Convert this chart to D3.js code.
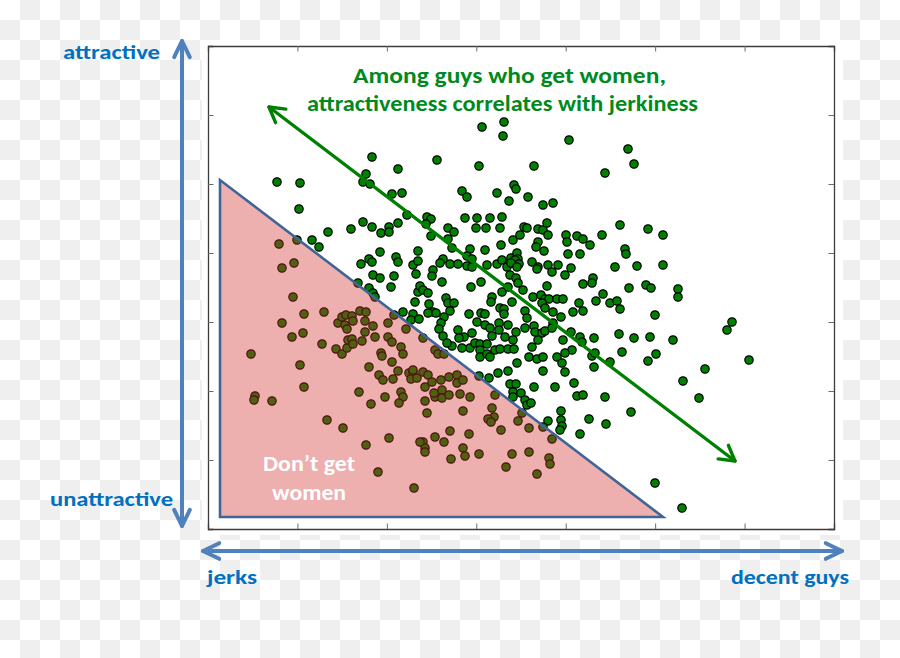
<!DOCTYPE html>
<html><head><meta charset="utf-8">
<script src="https://cdn.jsdelivr.net/npm/d3@7"></script>
<style>html,body{margin:0;padding:0;background:#fff;} svg{display:block;}</style>
</head><body>
<svg id="chart" width="900" height="658"></svg>
<script>
// ---- data (arbitrary units: jerkiness -> decency on x, attractiveness on y) ----
const xDomain = [0, 626];
const yDomain = [0, 483];
const tickCount = 7;
const guys = [
[164,372],[190,360],[158,355],[69,347],[92,346],[155,347],[162,345],[184,335],[194,336],[91,320],
[199,314],[155,307],[164,302],[143,300],[181,302],[190,306],[173,296],[181,297],[120,297],[104,289],
[111,282],[71,285],[89,289],[172,277],[210,278],[188,272],[190,267],[161,270],[164,267],[153,265],
[205,264],[210,268],[86,266],[74,261],
[274,402],[296,407],[295,393],[361,389],[420,380],[229,369],[271,363],[326,363],[397,356],[254,338],
[259,332],[289,336],[306,344],[308,340],[301,328],[320,332],[335,324],[345,326],[219,312],[223,310],
[218,305],[257,311],[269,311],[282,311],[294,312],[412,304],[240,301],[246,297],[223,293],[268,301],
[278,301],[292,301],[316,302],[319,301],[330,300],[335,299],[339,306],[340,294],[312,294],[305,289],
[330,287],[328,282],[336,278],[358,294],[359,287],[369,293],[375,290],[382,284],[394,294],[417,280],
[418,275],[240,290],[262,280],[244,281],[277,279],[293,284],[259,273],[264,270],[235,270],[242,265],
[250,265],[259,263],[264,262],[225,259],[289,265],[294,269],[303,271],[309,276],[310,270],[307,269],
[301,265],[311,265],[324,267],[340,264],[350,264],[360,275],[372,275],[363,261],[407,262],[330,262],
[426,365],[440,300],[455,294],[429,263],[455,264],
[165,254],[172,251],[186,253],[183,242],[161,241],[165,236],[167,232],[208,255],[210,237],[207,227],
[195,217],[205,215],[203,209],[211,210],[150,246],
[85,232],[96,215],[116,217],[74,206],[95,196],[84,192],[114,185],[43,175],[92,164],[96,142],
[47,133],[46,129],[64,128],[128,180],[134,175],[139,181],[140,189],[144,190],[145,185],[154,188],
[130,206],[134,212],[138,214],[144,213],[145,208],[137,204],[139,200],[152,218],[158,217],[157,208],
[165,203],[157,197],[167,192],[180,206],[186,214],[180,192],[184,187],[193,182],[195,175],[198,200],
[173,176],[174,173],[184,167],[161,162],[190,158],[201,156],[205,157],[171,154],[175,149],[185,150],
[203,150],[209,151],[151,137],[177,132],[193,137],[195,132],
[232,266],[279,264],[299,262],[303,266],[309,262],[329,260],[344,257],[357,254],[224,253],[234,247],
[212,243],[215,239],[220,236],[221,225],[225,217],[220,216],[228,216],[238,231],[240,226],[246,226],
[242,218],[236,212],[233,206],[231,200],[235,193],[250,199],[256,192],[264,196],[261,215],[269,207],
[273,247],[263,242],[284,232],[283,227],[294,237],[300,242],[302,254],[308,251],[310,246],[315,239],
[273,216],[277,215],[277,204],[282,201],[284,193],[291,206],[292,221],[296,220],[296,215],[300,204],
[304,227],[308,197],[305,189],[297,192],[291,199],[317,218],[319,211],[317,201],[326,203],[327,197],
[325,232],[333,234],[339,243],[337,230],[341,230],[334,226],[337,221],[345,217],[349,230],[355,230],
[353,212],[365,217],[371,226],[375,218],[375,245],[385,251],[384,246],[388,228],[395,235],[402,226],
[409,228],[334,196],[337,198],[330,189],[345,206],[344,201],[355,189],[363,197],[372,192],[374,187],
[386,191],[411,195],[414,177],[364,179],[349,172],[357,176],[324,182],[321,172],[329,170],[335,172],
[354,166],[357,157],[335,158],[384,173],[387,176],[386,162],[402,167],[309,166],[300,158],[290,156],
[281,151],[271,153],[251,191],[254,181],[262,181],[267,186],[272,185],[279,185],[272,179],[272,172],
[244,183],[239,186],[279,175],[287,179],[292,180],[300,180],[306,180],[282,172],[302,145],[305,137],
[308,145],[326,142],[347,142],[366,146],[369,133],[375,134],[397,132],
[215,191],[227,179],[230,175],[236,175],[205,159],[215,157],[220,154],[217,142],[224,147],[233,149],
[234,139],[241,152],[249,154],[249,146],[255,149],[262,132],[227,132],
[421,241],[438,244],[443,241],[470,240],[470,232],[412,220],[447,214],[524,207],[519,199],[426,191],
[442,192],[465,189],[448,175],[440,168],[541,169],[497,160],[475,148],[491,131],
[423,117],[447,46],[474,21],
[305,132],[313,136],[317,129],[319,124],[323,126],[353,118],[340,108],[353,109],[354,103],[352,99],
[381,110],[398,105],[372,95],
[226,136],[234,131],[241,134],[252,135],[287,134],[217,128],[219,116],[255,118],[284,121],[286,112],
[280,110],[283,107],[314,116],[310,108],[293,99],[321,101],[335,102],[242,98],[261,95],[227,92],
[215,87],[236,87],[217,81],[217,77],[255,81],[257,73],[243,70],[271,75],[304,75],[321,77],
[344,90],[341,71],[342,65],[298,62],[329,55],[206,41],
[119,109],[135,101],[163,125],[191,126],[181,91],[158,84],[170,57],[212,87]
];
const dontGetWomen = [[12,349],[12,12],[455,12]];
const trendArrow = [[61,422],[527,68]];
const vAxisArrow = [[-26,3],[-26,488]];
const hAxisArrow = [[-5,-22],[634,-22]];
const titleLines = ["Among guys who get women,", "attractiveness correlates with jerkiness"];
const regionLines = ["Don\u2019t get", "women"];
const axisLabels = {top: "attractive", bottom: "unattractive", left: "jerks", right: "decent guys"};

// ---- drawing ----
const svg = d3.select("#chart");
const W = 900, H = 658;
const plot = {left: 208, right: 834, top: 46, bottom: 529};
const x = d3.scaleLinear().domain(xDomain).range([plot.left, plot.right]);
const y = d3.scaleLinear().domain(yDomain).range([plot.bottom, plot.top]);

// transparent-style checkerboard background
const defs = svg.append("defs");
const pat = defs.append("pattern").attr("id","checker").attr("width",40).attr("height",40)
  .attr("patternUnits","userSpaceOnUse");
pat.append("rect").attr("width",40).attr("height",40).attr("fill","#ffffff");
pat.append("rect").attr("x",20).attr("y",0).attr("width",20).attr("height",20).attr("fill","#efefef");
pat.append("rect").attr("x",0).attr("y",20).attr("width",20).attr("height",20).attr("fill","#efefef");
svg.append("rect").attr("width",W).attr("height",H).attr("fill","url(#checker)");
svg.append("rect").attr("x",202).attr("y",40).attr("width",641).attr("height",495).attr("fill","#fff");

// axes (box with inward ticks)
const tickVals = xv => d3.range(1, tickCount).map(i => xv[0] + i*(xv[1]-xv[0])/tickCount);
const axG = svg.append("g");
const tl = 5.5;
axG.append("g").attr("transform",`translate(0,${plot.bottom})`)
  .call(d3.axisBottom(x).tickValues(tickVals(xDomain)).tickSize(-tl).tickFormat(""));
axG.append("g").attr("transform",`translate(0,${plot.top})`)
  .call(d3.axisTop(x).tickValues(tickVals(xDomain)).tickSize(-tl).tickFormat(""));
axG.append("g").attr("transform",`translate(${plot.left},0)`)
  .call(d3.axisLeft(y).tickValues(tickVals(yDomain)).tickSize(-tl).tickFormat(""));
axG.append("g").attr("transform",`translate(${plot.right},0)`)
  .call(d3.axisRight(y).tickValues(tickVals(yDomain)).tickSize(-tl).tickFormat(""));
axG.selectAll(".domain").attr("stroke","#3c3c3c").attr("stroke-width",1.3);
axG.selectAll(".tick line").attr("stroke","#6a6a6a").attr("stroke-width",1);

// points
svg.append("g").selectAll("circle").data(guys).join("circle")
  .attr("cx", d => x(d[0])).attr("cy", d => y(d[1])).attr("r", 4.2)
  .attr("fill", "#008000").attr("stroke", "#000").attr("stroke-width", 1.2);

// "don't get women" triangle overlay
const line = d3.line().x(d => x(d[0])).y(d => y(d[1]));
svg.append("path").attr("d", line(dontGetWomen) + "Z")
  .attr("fill", "rgb(210,45,45)").attr("fill-opacity", 0.38)
  .attr("stroke", "#3f6596").attr("stroke-width", 2.6).attr("stroke-linejoin","miter");

// double-headed arrow helper
function dblArrow(pts, color, width, headLen, headAng) {
  const p0 = [x(pts[0][0]), y(pts[0][1])], p1 = [x(pts[1][0]), y(pts[1][1])];
  const g = svg.append("g").attr("stroke", color).attr("stroke-width", width)
    .attr("fill","none").attr("stroke-linecap","round").attr("stroke-linejoin","round");
  g.append("line").attr("x1",p0[0]).attr("y1",p0[1]).attr("x2",p1[0]).attr("y2",p1[1]);
  const ang = Math.atan2(p1[1]-p0[1], p1[0]-p0[0]);
  [[p1, ang + Math.PI],[p0, ang]].forEach(([tip, back]) => {
    const a1 = back + headAng, a2 = back - headAng;
    g.append("path").attr("d",
      `M${tip[0]+headLen*Math.cos(a1)},${tip[1]+headLen*Math.sin(a1)}L${tip[0]},${tip[1]}L${tip[0]+headLen*Math.cos(a2)},${tip[1]+headLen*Math.sin(a2)}`);
  });
}
dblArrow(trendArrow, "#008000", 3.4, 17, Math.PI/6);
dblArrow(vAxisArrow, "#4f81bd", 4, 18, Math.PI/7);
dblArrow(hAxisArrow, "#4f81bd", 4, 18, Math.PI/7);

// texts
const font = "Carlito, Lato, 'Open Sans', sans-serif";
function txt(s, px, py, len, size, color, anchor) {
  svg.append("text").attr("x", px).attr("y", py).text(s)
    .attr("font-family", font).attr("font-weight", "bold").attr("font-size", size)
    .attr("fill", color).attr("text-anchor", anchor || "start")
    .attr("textLength", len).attr("lengthAdjust", "spacingAndGlyphs");
}
txt(axisLabels.top, 63, 59, 97, 21, "#0070c0");
txt(axisLabels.bottom, 50, 506, 123, 21, "#0070c0");
txt(axisLabels.left, 207, 584, 50, 21, "#0070c0");
txt(axisLabels.right, 731, 584, 118, 21, "#0070c0");
txt(titleLines[0], 353, 83, 313, 22, "#008a1e");
txt(titleLines[1], 307, 111, 391, 22, "#008a1e");
txt(regionLines[0], 263, 471, 92, 22, "#ffffff");
txt(regionLines[1], 272, 500, 74, 22, "#ffffff");
</script>
</body></html>
